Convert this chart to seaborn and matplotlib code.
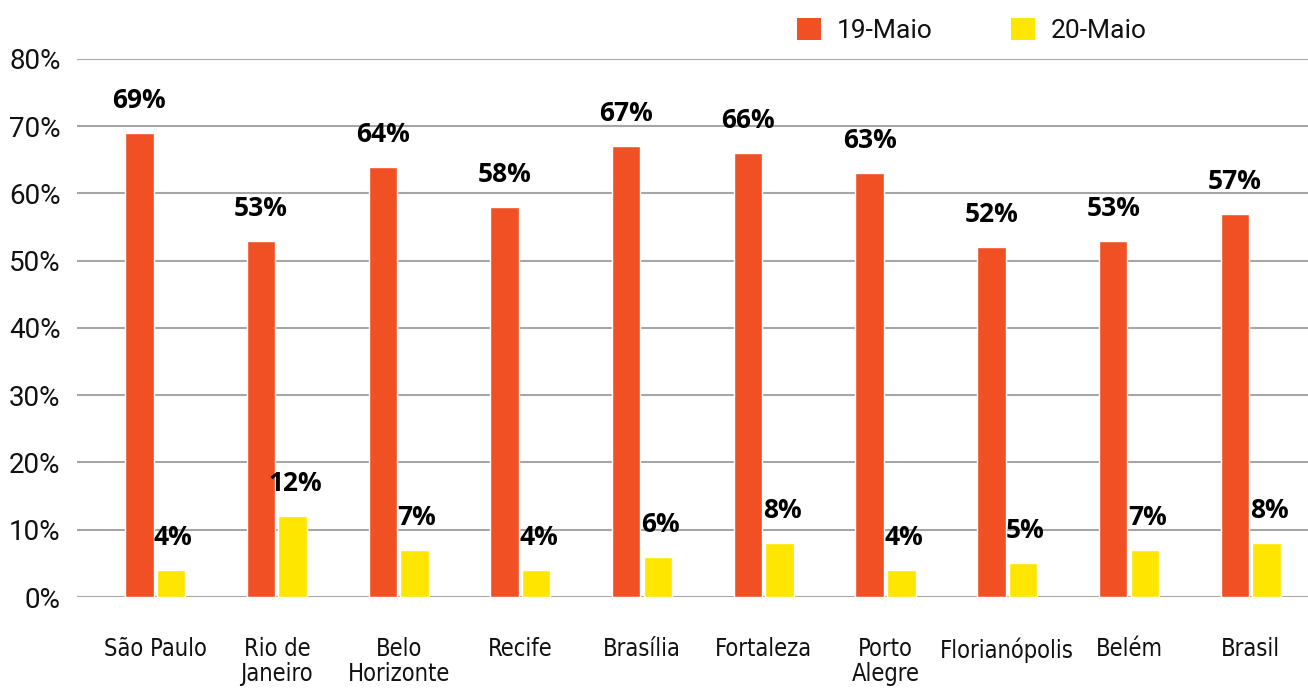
import pandas as pd
import matplotlib.pyplot as plt
import seaborn as sns
from matplotlib.patches import Patch

# --- Data ---
cidades = ["São Paulo", "Rio de\nJaneiro", "Belo\nHorizonte", "Recife", "Brasília",
           "Fortaleza", "Porto\nAlegre", "Florianópolis", "Belém", "Brasil"]
maio_19 = [69, 53, 64, 58, 67, 66, 63, 52, 53, 57]
maio_20 = [4, 12, 7, 4, 6, 8, 4, 5, 7, 8]
series = ["19-Maio", "20-Maio"]
cores = ["#F05023", "#FFE600"]

df = pd.DataFrame({
    "cidade": cidades * 2,
    "valor": maio_19 + maio_20,
    "dia": [series[0]] * len(cidades) + [series[1]] * len(cidades),
})

sns.set_style("white")
plt.rcParams["font.family"] = ["Roboto", "DejaVu Sans"]

fig = plt.figure(figsize=(13.08, 6.89), dpi=100)
ax = fig.add_axes([0.059, 0.1335, 0.941, 0.781])

sns.barplot(data=df, x="cidade", y="valor", hue="dia", palette=cores,
            width=0.52, gap=0.1, dodge=True, legend=False, ax=ax, saturation=1)

ax.set_ylim(0, 80)
ax.set_xlim(-0.64, 9.47)
ax.set_yticks(range(0, 81, 10))
ax.set_yticklabels([f"{v}%" for v in range(0, 81, 10)], fontsize=20, color="#111111")
ax.yaxis.grid(True, color="#a6a6a6", linewidth=1.5)
ax.set_axisbelow(True)
for s in ax.spines.values():
    s.set_visible(False)
ax.tick_params(axis="y", length=0, pad=12)
ax.tick_params(axis="x", length=0, pad=29)
ax.set_xlabel("")
ax.set_ylabel("")
for lbl in ax.get_xticklabels():
    lbl.set_family(["DejaVu Sans"])
    lbl.set_fontstretch("condensed")
    lbl.set_fontsize(17)
    lbl.set_color("#111111")
    lbl.set_linespacing(1.02)
    lbl.set_verticalalignment("top")

# value labels
for i, container in enumerate(ax.containers):
    for bar in container:
        h = bar.get_height()
        ax.annotate(f"{h:.0f}%", (bar.get_x() + bar.get_width() / 2 + 0.02 * i, h),
                    xytext=(0, 18), textcoords="offset points",
                    ha="center", va="baseline", fontsize=19, fontweight="bold",
                    family=["Open Sans", "DejaVu Sans"], color="black")

handles = [Patch(facecolor=c, edgecolor="none") for c in cores]
fig.legend(handles, series, loc="center", bbox_to_anchor=(0.743, 0.956), ncol=2,
           frameon=False, fontsize=19, handlelength=0.9, handleheight=0.9,
           handletextpad=0.6, columnspacing=3.0, labelcolor="#111111")

fig.savefig("out.png", dpi=100)
